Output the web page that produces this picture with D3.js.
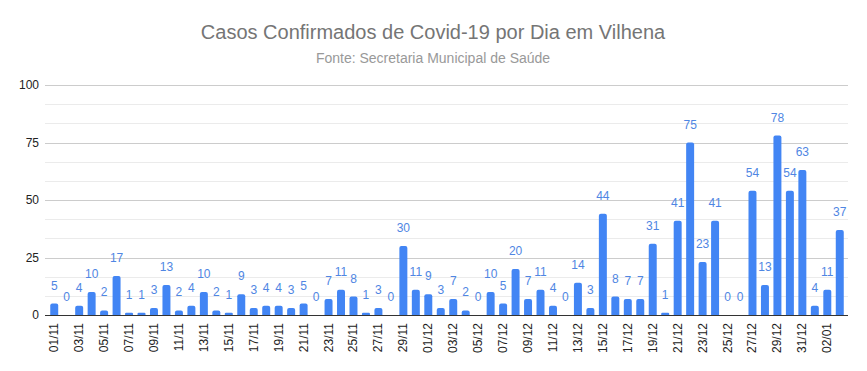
<!DOCTYPE html>
<html>
<head>
<meta charset="utf-8">
<script src="https://cdn.jsdelivr.net/npm/d3@7"></script>
<style>
  body { margin: 0; background: #fff; }
  svg { display: block; font-family: "Liberation Sans", Arial, sans-serif; }
</style>
</head>
<body>
<div id="chart"></div>
<script>
var width = 867;
var height = 371;

// dados
var dias = ["01/11","02/11","03/11","04/11","05/11","06/11","07/11","08/11","09/11","10/11",
  "11/11","12/11","13/11","14/11","15/11","16/11","17/11","18/11","19/11","20/11",
  "21/11","22/11","23/11","24/11","25/11","26/11","27/11","28/11","29/11","30/11",
  "01/12","02/12","03/12","04/12","05/12","06/12","07/12","08/12","09/12","10/12",
  "11/12","12/12","13/12","14/12","15/12","16/12","17/12","18/12","19/12","20/12",
  "21/12","22/12","23/12","24/12","25/12","26/12","27/12","28/12","29/12","30/12",
  "31/12","01/01","02/01","03/01"];
var casos = [5,0,4,10,2,17,1,1,3,13,
  2,4,10,2,1,9,3,4,4,3,
  5,0,7,11,8,1,3,0,30,11,
  9,3,7,2,0,10,5,20,7,11,
  4,0,14,3,44,8,7,7,31,1,
  41,75,23,41,0,0,54,13,78,54,
  63,4,11,37];
var yTicks = [0, 25, 50, 75, 100];
var titulo = "Casos Confirmados de Covid-19 por Dia em Vilhena";
var subtitulo = "Fonte: Secretaria Municipal de Saúde";

var data = dias.map(function(d, i) { return {dia: d, valor: casos[i]}; });

var plot = {left: 45, right: 848, top: 85, bottom: 315};

var svg = d3.select("#chart").append("svg")
    .attr("width", width)
    .attr("height", height);

var x = d3.scaleBand()
    .domain(dias)
    .range([48, 846])
    .paddingInner(0.36)
    .paddingOuter(0.18);

var y = d3.scaleLinear()
    .domain([0, 100])
    .range([plot.bottom, plot.top]);

// minor gridlines
var minor = d3.range(0, 100, 25 / 3).filter(function(v, i) { return i % 3 != 0; });
svg.append("g").selectAll("line")
    .data(minor)
    .enter().append("line")
    .attr("x1", plot.left).attr("x2", plot.right)
    .attr("y1", d => Math.round(y(d)) + 0.5)
    .attr("y2", d => Math.round(y(d)) + 0.5)
    .attr("stroke", "#ebebeb");

// major gridlines
svg.append("g").selectAll("line")
    .data(yTicks.slice(1))
    .enter().append("line")
    .attr("x1", plot.left).attr("x2", plot.right)
    .attr("y1", d => Math.round(y(d)) + 0.5)
    .attr("y2", d => Math.round(y(d)) + 0.5)
    .attr("stroke", "#cccccc");

// y labels
svg.append("g").selectAll("text")
    .data(yTicks)
    .enter().append("text")
    .attr("x", 39)
    .attr("y", d => y(d) + 4)
    .attr("text-anchor", "end")
    .attr("font-size", 12)
    .attr("fill", "#222")
    .text(d => d);

// barras com topo arredondado
function barPath(d) {
    var x0 = x(d.dia), w = x.bandwidth();
    var y0 = y(d.valor), y1 = y(0);
    var r = Math.min(2, (y1 - y0) / 2, w / 2);
    if (y1 - y0 <= 0) return "";
    return "M" + x0 + "," + y1 +
        "V" + (y0 + r) +
        "Q" + x0 + "," + y0 + " " + (x0 + r) + "," + y0 +
        "H" + (x0 + w - r) +
        "Q" + (x0 + w) + "," + y0 + " " + (x0 + w) + "," + (y0 + r) +
        "V" + y1 + "Z";
}

svg.append("g").selectAll("path")
    .data(data)
    .enter().append("path")
    .attr("d", barPath)
    .attr("fill", "#4285f4");

// rótulos dos valores
svg.append("g").selectAll("text")
    .data(data)
    .enter().append("text")
    .attr("x", d => x(d.dia) + x.bandwidth() / 2)
    .attr("y", d => y(d.valor) - 14)
    .attr("text-anchor", "middle")
    .attr("font-size", 12)
    .attr("fill", "#4f86e3")
    .text(d => d.valor);

// eixo base
svg.append("line")
    .attr("x1", plot.left).attr("x2", plot.right)
    .attr("y1", plot.bottom + 0.5).attr("y2", plot.bottom + 0.5)
    .attr("stroke", "#333");

// rótulos do eixo x (um sim, um não)
svg.append("g").selectAll("text")
    .data(data.filter(function(d, i) { return i % 2 == 0; }))
    .enter().append("text")
    .attr("transform", d => "translate(" + (x(d.dia) + x.bandwidth() / 2 + 4) + "," + (plot.bottom + 8) + ") rotate(-90)")
    .attr("text-anchor", "end")
    .attr("font-size", 12)
    .attr("fill", "#222")
    .text(d => d.dia);

// títulos
svg.append("text")
    .attr("x", 433).attr("y", 39)
    .attr("text-anchor", "middle")
    .attr("font-size", 20)
    .attr("fill", "#757575")
    .text(titulo);

svg.append("text")
    .attr("x", 433).attr("y", 63)
    .attr("text-anchor", "middle")
    .attr("font-size", 14)
    .attr("fill", "#999999")
    .text(subtitulo);
</script>
</body>
</html>
